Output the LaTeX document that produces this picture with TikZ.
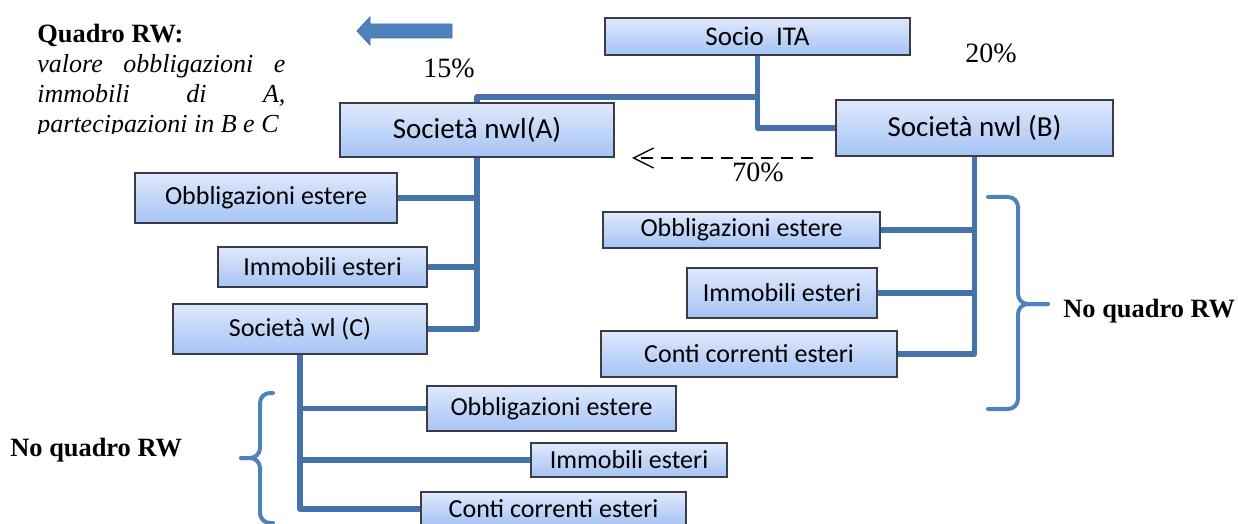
\documentclass[tikz,border=0pt]{standalone}
\usepackage{fontspec}
\setmainfont{Liberation Serif}
\newfontfamily\carl{Carlito}
\usetikzlibrary{arrows.meta,calc}
\definecolor{lineblue}{HTML}{4672AA}
\definecolor{braceblue}{HTML}{4F81BD}
\definecolor{arrowedge}{HTML}{41719C}
\definecolor{boxtop}{HTML}{DFE9FC}
\definecolor{boxbot}{HTML}{A5C3F4}
\definecolor{boxedge}{HTML}{3C3C46}
\begin{document}
\begin{tikzpicture}[x=0.5pt,y=-0.5pt,
  box/.style={draw=boxedge, line width=0.6pt, top color=boxtop, bottom color=boxbot,
    inner sep=0pt, font=\carl\fontsize{13}{15}\selectfont},
  bigbox/.style={box, font=\carl\fontsize{14.5}{16}\selectfont},
  conn/.style={draw=lineblue, line width=2.6pt, line join=round},
  brc/.style={draw=braceblue, line width=2pt, line cap=round, rounded corners=5pt},
  pct/.style={font=\fontsize{14}{16}\selectfont, inner sep=0pt, anchor=base west},
  note/.style={font=\bfseries\fontsize{13.2}{15}\selectfont, inner sep=0pt, anchor=base west},
  itl/.style={font=\itshape\fontsize{13}{15}\selectfont, inner sep=0pt, anchor=base west}]
\useasboundingbox (0,0) rectangle (1238,524);
\clip (0,0) rectangle (1238,524);

% boxes
\node[box, font=\carl\fontsize{13.5}{15}\selectfont, minimum width=152.5pt, minimum height=18.5pt] (socio) at (757.5,36.5) {Socio\ \ ITA};
\node[bigbox, minimum width=137pt, minimum height=27pt] (A) at (477,130) {Società nwl(A)};
\node[bigbox, minimum width=138.5pt, minimum height=28pt] (B) at (974.5,128) {Società nwl (B)};
\node[box, minimum width=131pt, minimum height=25pt] (ObA) at (266,198) {Obbligazioni estere};
\node[box, minimum width=104.5pt, minimum height=20pt] (ImA) at (322.5,267) {Immobili esteri};
\node[box, minimum width=127pt, minimum height=25pt] (C) at (300,329) {Società wl (C)};
\node[box, minimum width=138.5pt, minimum height=18pt] (ObB) at (741.5,230) {Obbligazioni estere};
\node[box, minimum width=95pt, minimum height=25pt] (ImB) at (782,293) {Immobili esteri};
\node[box, minimum width=148pt, minimum height=23pt] (CoB) at (749,354) {Conti correnti esteri};
\node[box, minimum width=124.5pt, minimum height=22.5pt] (ObC) at (551.5,408.5) {Obbligazioni estere};
\node[box, minimum width=98pt, minimum height=17pt] (ImC) at (629,460) {Immobili esteri};
\node[box, minimum width=132.5pt, minimum height=17pt] (CoC) at (553.5,509) {Conti correnti esteri};

% connectors
\coordinate (jS) at (757.5,97);
\draw[conn] (socio.south) |- (B.west);
\draw[conn] (jS) -| (A.north);
\draw[conn] (A.south) |- (C.east);
\draw[conn] (ObA.east) -- (ObA.east -| A.south);
\draw[conn] (ImA.east) -- (ImA.east -| A.south);
\draw[conn] (B.south) |- (CoB.east);
\draw[conn] (ObB.east) -- (ObB.east -| B.south);
\draw[conn] (ImB.east) -- (ImB.east -| B.south);
\draw[conn] (C.south) |- (CoC.west);
\draw[conn] (ObC.west) -- (ObC.west -| C.south);
\draw[conn] (ImC.west) -- (ImC.west -| C.south);

% dashed arrow
\coordinate (d1) at (813,158);
\coordinate (d2) at (632,158);
\draw[line width=0.65pt, dash pattern=on 6pt off 4pt, -{Straight Barb[length=10pt,width=10pt,line width=0.7pt]}] (d1) -- (d2);

% big block arrow
\filldraw[fill=braceblue, draw=arrowedge, line width=0.4pt]
  (452,24) -- (370,24) -- (370,17) -- (357,31) -- (370,45) -- (370,38) -- (452,38) -- cycle;

% braces
\draw[brc] (988,197) -- (1018,197) -- (1018,304) -- (1048,304);
\draw[brc] (988,409) -- (1018,409) -- (1018,304) -- (1048,304);
\draw[brc] (273,393) -- (260,393) -- (260,458) -- (241,458);
\draw[brc] (273,523) -- (260,523) -- (260,458) -- (241,458);

% labels
\node[pct] (p15) at (423,78) {15\%};
\node[pct] (p20) at (965,63) {20\%};
\node[pct] (p70) at (732,182) {70\%};
\node[note] (nqR) at (1063,317) {No quadro RW};
\node[note] (nqL) at (10,456) {No quadro RW};
\node[note] (qrw) at (37,43) {Quadro RW:};
\begin{scope}
\clip (0,0) rectangle (300,134);
\node[itl] (l1) at (37,73) {\makebox[124pt][s]{valore obbligazioni e}};
\node[itl] (l2) at (37,103) {\makebox[124pt][s]{immobili di A,}};
\node[itl] (l3) at (37,133) {partecipazioni in B e C};
\end{scope}
\end{tikzpicture}
\end{document}
